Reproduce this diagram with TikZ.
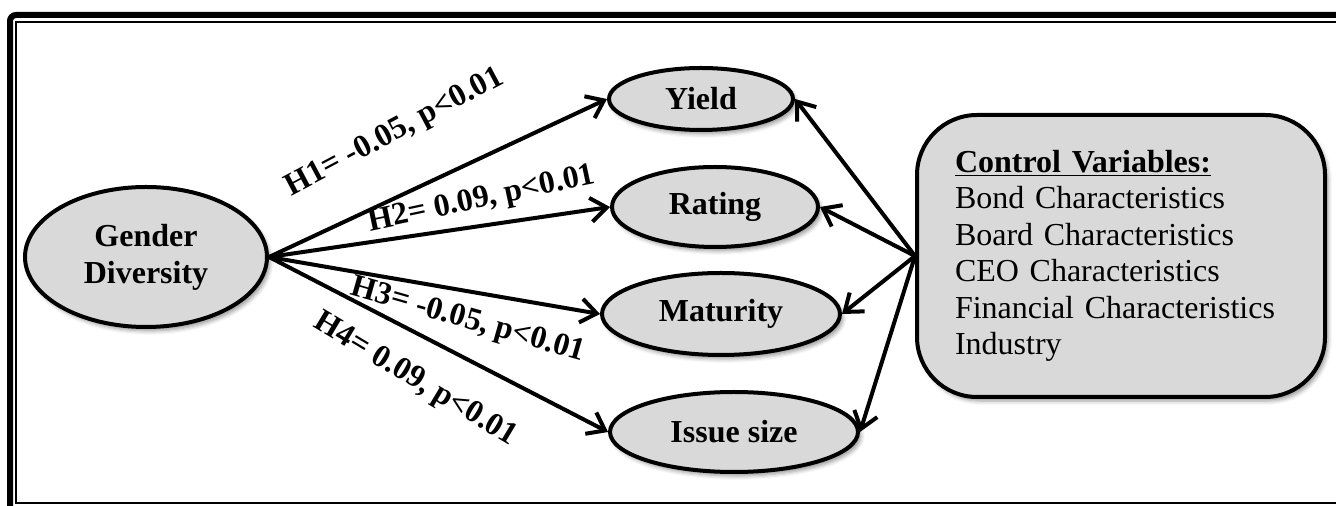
\documentclass[tikz,border=0pt]{standalone}
\usepackage{fontspec}
\setmainfont{Liberation Serif}
\usetikzlibrary{shapes.geometric,arrows.meta,shadows.blur}

\tikzset{
  soft shadow/.style={blur shadow={shadow xshift=1.5pt, shadow yshift=-2pt, shadow blur radius=2pt, shadow opacity=40}},
  oval/.style={ellipse, draw=black, line width=2pt, fill=black!15, inner sep=0pt, align=center,
    font=\fontsize{16}{18.5}\selectfont\bfseries, soft shadow},
  link/.style={line width=2pt, -{Straight Barb[length=8pt,width=12pt]}},
  hyp/.style={font=\fontsize{16}{18}\selectfont\bfseries, inner sep=1pt},
}

\begin{document}
\begin{tikzpicture}[x=0.5pt,y=-0.5pt]
\useasboundingbox (0,0) rectangle (1336,506);
\clip (0,0) rectangle (1336,506);

% page frame
\draw[line width=3pt, rounded corners=3pt] (10,15) rectangle (1360,530);
\draw[line width=1pt] (16,22) rectangle (1350,503);

% variables
\node[oval, minimum width=121pt, minimum height=70pt] (gender) at (146,257) {Gender\\Diversity};
\node[oval, minimum width=92pt, minimum height=31pt] (yield) at (701,99) {Yield};
\node[oval, minimum width=103pt, minimum height=40pt] (rating) at (715,207) {Rating};
\node[oval, minimum width=119pt, minimum height=41pt] (maturity) at (721,314) {Maturity};
\node[oval, minimum width=124pt, minimum height=40pt] (issue) at (734,432) {Issue size};

\node[rectangle, rounded corners=30pt, draw=black, line width=2pt, fill=black!15, soft shadow,
  minimum width=204pt, minimum height=141pt, text width=166pt, align=left,
  font=\fontsize{16}{18.25}\selectfont] (ctrl) at (1121,256) {
\underline{\textbf{Control Variables:}}\\
Bond Characteristics\\
Board Characteristics\\
CEO Characteristics\\
Financial Characteristics\\
Industry
};

% hypotheses
\draw[link] (gender.east) -- (yield.west);
\draw[link] (gender.east) -- (rating.west);
\draw[link] (gender.east) -- (maturity.west);
\draw[link] (gender.east) -- (issue.west);

\node[hyp, rotate=28] (h1) at (395,133) {H1= -0.05, p<0.01};
\node[hyp, rotate=12] (h2) at (482,200) {H2= 0.09, p<0.01};
\node[hyp, rotate=-16] (h3) at (468,321) {H3= -0.05, p<0.01};
\node[hyp, rotate=-31] (h4) at (415,380) {H4= 0.09, p<0.01};

% controls
\draw[link] (ctrl.west) -- (yield.east);
\draw[link] (ctrl.west) -- (rating.east);
\draw[link] (ctrl.west) -- (maturity.east);
\draw[link] (ctrl.west) -- (issue.east);
\end{tikzpicture}
\end{document}
